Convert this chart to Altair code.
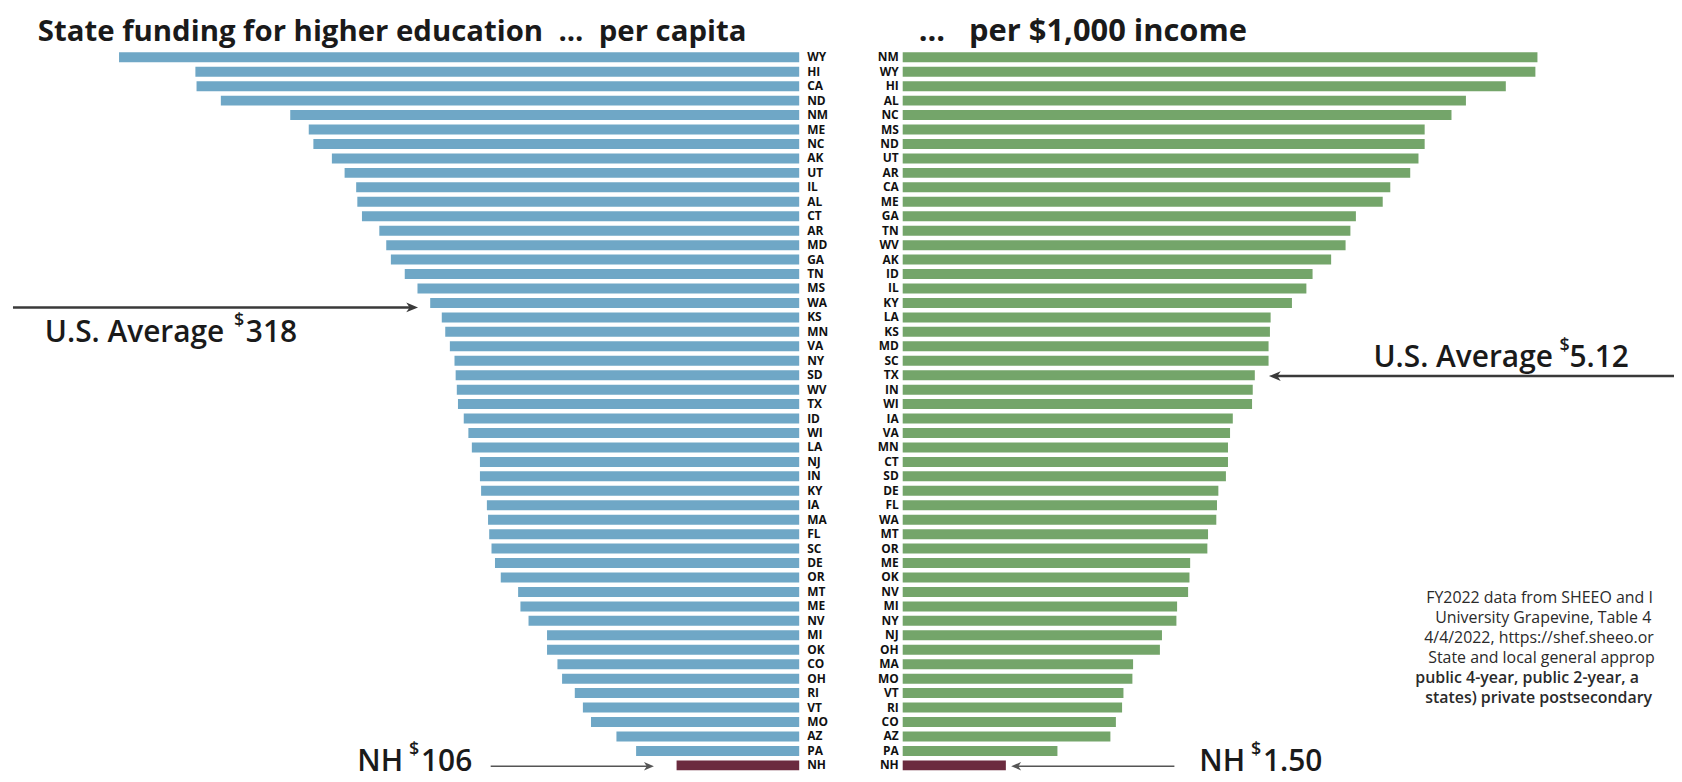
import altair as alt
import pandas as pd

# ---------------- data ----------------
states_pc = ["WY", "HI", "CA", "ND", "NM", "ME", "NC", "AK", "UT", "IL", "AL", "CT", "AR", "MD", "GA",
             "TN", "MS", "WA", "KS", "MN", "VA", "NY", "SD", "WV", "TX", "ID", "WI", "LA", "NJ", "IN",
             "KY", "IA", "MA", "FL", "SC", "DE", "OR", "MT", "ME", "NV", "MI", "OK", "CO", "OH", "RI",
             "VT", "MO", "AZ", "PA", "NH"]
values_pc = [588, 522, 521, 500, 440, 424, 420, 404, 393, 383, 382, 378, 363, 357, 353,
             341, 330, 319, 309, 306, 302, 298, 297, 296, 295, 290, 286, 283, 276, 276,
             275, 270, 269, 268, 266, 263, 258, 243, 241, 234, 218, 218, 209, 205, 194,
             187, 180, 158, 141, 106]

states_inc = ["NM", "WY", "HI", "AL", "NC", "MS", "ND", "UT", "AR", "CA", "ME", "GA", "TN", "WV", "AK",
              "ID", "IL", "KY", "LA", "KS", "MD", "SC", "TX", "IN", "WI", "IA", "VA", "MN", "CT", "SD",
              "DE", "FL", "WA", "MT", "OR", "ME", "OK", "NV", "MI", "NY", "NJ", "OH", "MA", "MO", "VT",
              "RI", "CO", "AZ", "PA", "NH"]
values_inc = [9.23, 9.20, 8.77, 8.19, 7.98, 7.59, 7.59, 7.50, 7.38, 7.09, 6.98, 6.59, 6.51, 6.44, 6.23,
              5.96, 5.87, 5.66, 5.35, 5.34, 5.32, 5.32, 5.12, 5.09, 5.08, 4.80, 4.76, 4.73, 4.73, 4.70,
              4.59, 4.57, 4.56, 4.44, 4.43, 4.18, 4.17, 4.15, 3.99, 3.98, 3.77, 3.74, 3.35, 3.34, 3.21,
              3.19, 3.10, 3.02, 2.25, 1.50]

NB = "\u00a0"
title_left = "State funding for higher education" + NB * 2 + "..." + NB * 2 + "per capita"
title_right = "..." + NB * 3 + "per $1,000 income"
avg_label = "U.S. Average"
avg_pc = "318"
avg_inc = "5.12"
nh_label = "NH"
nh_pc = "106"
nh_inc = "1.50"
source_lines = [
    "FY2022 data from SHEEO and I",
    "University Grapevine, Table 4",
    "4/4/2022, https://shef.sheeo.or",
    "State and local general approp",
    "public 4-year, public 2-year, a",
    "states) private postsecondary",
]

# ---------------- style ----------------
BLUE = "#6FA7C6"
GREEN = "#74A56A"
NH_COL = "#6B2B3F"
FONT = "Open Sans"
INK = "#1a1a1a"

W, H = 1674, 774

left_df = pd.DataFrame({"state": states_pc, "value": values_pc, "rank": list(range(len(states_pc)))})
right_df = pd.DataFrame({"state": states_inc, "value": values_inc, "rank": list(range(len(states_inc)))})

yscale = alt.Scale(range=[40.4, 766.4], paddingInner=0.31, paddingOuter=0.155)
lscale = alt.Scale(domain=[0, 684], range=[795, 0], nice=False, zero=True)
rscale = alt.Scale(domain=[0, 10], range=[899, 1590], nice=False, zero=True)

Y = alt.Y("rank:O", scale=yscale, axis=None)

left_bars = alt.Chart(left_df).mark_bar().encode(
    x=alt.X("value:Q", scale=lscale, axis=None),
    y=Y,
    color=alt.condition(alt.datum.state == "NH", alt.value(NH_COL), alt.value(BLUE)),
)
left_labels = alt.Chart(left_df).transform_calculate(z="0").mark_text(
    align="left", baseline="middle", dx=8, font=FONT, fontWeight="bold", fontSize=12, color="#111"
).encode(x=alt.X("z:Q", scale=lscale, axis=None), y=Y, text="state:N")

right_bars = alt.Chart(right_df).mark_bar().encode(
    x=alt.X("value:Q", scale=rscale, axis=None),
    y=Y,
    color=alt.condition(alt.datum.state == "NH", alt.value(NH_COL), alt.value(GREEN)),
)
right_labels = alt.Chart(right_df).transform_calculate(z="0").mark_text(
    align="right", baseline="middle", dx=-4, font=FONT, fontWeight="bold", fontSize=12, color="#111"
).encode(x=alt.X("z:Q", scale=rscale, axis=None), y=Y, text="state:N")


def txt(s, x, y, size, weight="normal", color=INK, align="left"):
    return alt.Chart(pd.DataFrame({"t": [s]})).mark_text(
        align=align, baseline="alphabetic", font=FONT, fontSize=size, fontWeight=weight, color=color
    ).encode(x=alt.value(x), y=alt.value(y), text="t:N")


ARROW_PATH = "M0,0 L-1,-0.42 L-0.72,0 L-1,0.42 Z"


def arrow(x_tail, x_tip, y, width, color, head):
    right = x_tip > x_tail
    lo, hi = (x_tail, x_tip - 6) if right else (x_tip + 6, x_tail)
    d = pd.DataFrame({"a": [0]})
    rule = alt.Chart(d).mark_rule(strokeWidth=width, color=color).encode(
        x=alt.value(lo), x2=alt.value(hi), y=alt.value(y)
    )
    tip = alt.Chart(d).mark_point(
        shape=ARROW_PATH, filled=True, size=head, color=color, opacity=1, strokeWidth=0,
        angle=0 if right else 180
    ).encode(x=alt.value(x_tip), y=alt.value(y))
    return [rule, tip]


layers = [left_bars, right_bars, left_labels, right_labels]

# titles
layers += [txt(title_left, 30, 31, 29.5, "bold"), txt(title_right, 915, 31, 31, "bold")]

# U.S. average annotations
layers += [
    txt(avg_label, 37, 334, 30, 600), txt("$", 227, 318, 18, 600), txt(avg_pc, 239, 334, 30, 600),
    txt(avg_label, 1372, 359, 30, 600), txt("$", 1559, 343, 18, 600), txt(avg_inc, 1569, 359, 30, 600),
]
layers += arrow(5, 412, 299, 2.5, "#3a3a3a", 560)
layers += arrow(1674, 1267, 368, 2.5, "#3a3a3a", 560)

# NH annotations
layers += [
    txt(nh_label, 351, 765, 30, 600), txt("$", 403, 749, 18, 600), txt(nh_pc, 415, 765, 30, 600),
    txt(nh_label, 1197, 765, 30, 600), txt("$", 1249, 749, 18, 600), txt(nh_inc, 1261, 765, 30, 600),
]
layers += arrow(485, 649, 760, 1.5, "#555555", 400)
layers += arrow(1172, 1008, 760, 1.5, "#555555", 400)

# source note
src_x = [1425, 1434, 1423, 1427, 1414, 1424]
src_y = [596, 616, 636, 656, 676, 696]
src_w = ["normal", "normal", "normal", "normal", 600, 600]
for s, x, y, w in zip(source_lines, src_x, src_y, src_w):
    layers.append(txt(s, x, y, 16, w, "#2a2a2a"))

chart = alt.layer(*layers).resolve_scale(x="independent").properties(
    width=W, height=H, autosize=alt.AutoSizeParams(type="none"), padding=0
).configure_view(strokeWidth=0)

chart.save("out.html", embed_options={"renderer": "svg", "actions": False})
